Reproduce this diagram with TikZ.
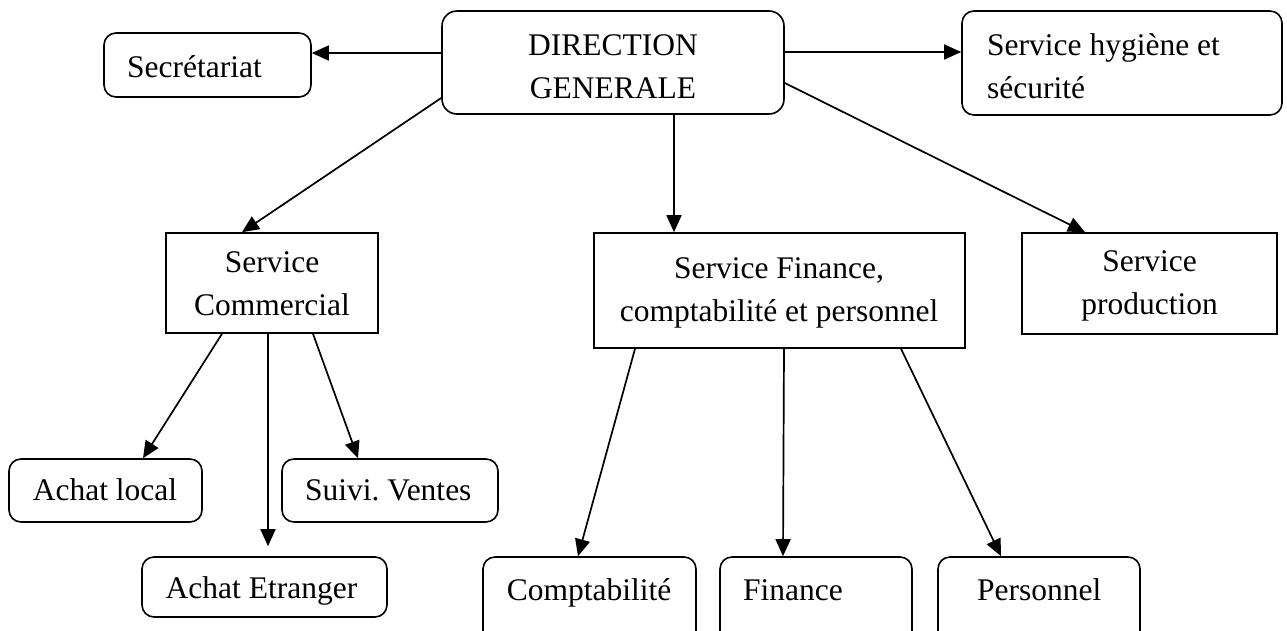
\documentclass[tikz,border=0pt]{standalone}
\usepackage{fontspec}
\setmainfont{Liberation Serif}
\usetikzlibrary{arrows.meta}

\begin{document}
\begin{tikzpicture}[x=1pt,y=-1pt,
  box/.style={draw, line width=1.6pt, inner sep=0pt, minimum width=#1},
  rbox/.style={box=#1, rounded corners=12pt},
  txt/.style={inner sep=0pt, anchor=base, align=center,
    font=\fontsize{31.5}{43}\selectfont},
  ltxt/.style={txt, anchor=base west, align=left},
  link/.style={line width=1.7pt, -{Triangle[length=17pt,width=15pt]}}]

\useasboundingbox (0,0) rectangle (1287,630);
\clip (0,0) rectangle (1287,630);

% boxes
\node[rbox=342pt, minimum height=103pt, rounded corners=15pt] (dg) at (613,62.5) {};
\node[rbox=207pt, minimum height=64pt] (sec) at (207.5,65) {};
\node[rbox=320pt, minimum height=104pt] (hyg) at (1122,63) {};
\node[box=212pt, minimum height=100pt] (com) at (272,283) {};
\node[box=371pt, minimum height=115pt] (fin) at (779.5,290.5) {};
\node[box=255pt, minimum height=101pt] (prod) at (1149.5,283.5) {};
\node[rbox=193pt, minimum height=63pt] (al) at (105.5,490.5) {};
\node[rbox=216pt, minimum height=63pt] (sv) at (390,490.5) {};
\node[rbox=245pt, minimum height=60pt] (ae) at (264.5,587) {};
\node[rbox=213pt, minimum height=100pt] (cpt) at (589.5,607) {};
\node[rbox=192pt, minimum height=100pt] (fi) at (816,607) {};
\node[rbox=202pt, minimum height=100pt] (pe) at (1039,607) {};

% labels (two-line labels sit on the baseline of their last line)
\node[txt] (t-dg) at (613,98) {DIRECTION\\GENERALE};
\node[ltxt] (t-sec) at (127,77) {Secrétariat};
\node[ltxt] (t-hyg) at (987,98) {Service hygiène et\\sécurité};
\node[txt] (t-com) at (272,315) {Service\\Commercial};
\node[txt] (t-fin) at (779,321) {Service Finance,\\comptabilité et personnel};
\node[txt] (t-prod) at (1149.5,314) {Service\\production};
\node[txt] (t-al) at (105,500) {Achat local};
\node[ltxt] (t-sv) at (305,500) {Suivi.\ Ventes};
\node[txt] (t-ae) at (261.5,598) {Achat Etranger};
\node[txt] (t-cpt) at (589,600) {Comptabilité};
\node[ltxt] (t-fi) at (743,600) {Finance};
\node[ltxt] (t-pe) at (977,600) {Personnel};

% links from the direction
\draw[link] ([yshift=9.5pt]dg.west) -- ([yshift=12pt]sec.east);
\draw[link] ([yshift=10.5pt]dg.east) -- ([yshift=11pt]hyg.west);
\draw[link] ([yshift=-35.5pt]dg.west) -- ([xshift=-30pt]com.north);
\draw[link] ([xshift=61pt]dg.south) -- ([xshift=-105.5pt]fin.north);
\draw[link] ([yshift=-20.5pt]dg.east) -- ([xshift=-64.5pt]prod.north);

% commercial service
\draw[link] ([xshift=-50pt]com.south) -- ([xshift=37.5pt]al.north);
\draw[link] ([xshift=-4pt]com.south) -- ([xshift=3.5pt,yshift=10pt]ae.north);
\draw[link] ([xshift=41pt]com.south) -- ([xshift=-32pt]sv.north);

% finance service
\draw[link] ([xshift=-144.5pt]fin.south) -- ([xshift=-11.5pt]cpt.north);
\draw[link] ([xshift=4.5pt]fin.south) -- ([xshift=-33pt]fi.north);
\draw[link] ([xshift=121.5pt]fin.south) -- ([xshift=-38pt]pe.north);
\end{tikzpicture}
\end{document}
